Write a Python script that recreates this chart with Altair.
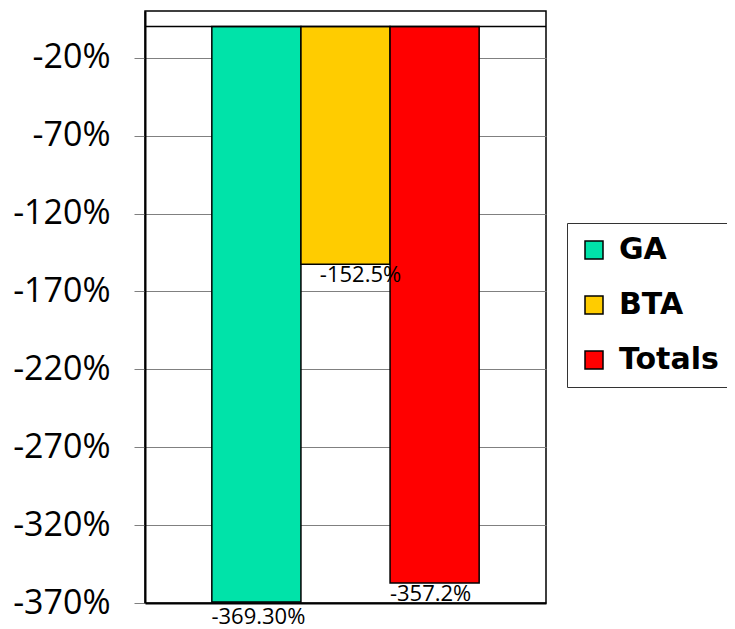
import altair as alt
import pandas as pd

series = ["GA", "BTA", "Totals"]
values = [-369.3, -152.5, -357.2]
labels = ["-369.30%", "-152.5%", "-357.2%"]
colors = ["#00E3A9", "#FFCC00", "#FF0000"]
y_ticks = [-20, -70, -120, -170, -220, -270, -320, -370]

df = pd.DataFrame({"series": series, "value": values, "label": labels})
zero_df = pd.DataFrame({"value": [0]})

x_enc = alt.X(
    "series:N", sort=series,
    scale=alt.Scale(paddingInner=0, paddingOuter=0.75),
    axis=alt.Axis(labels=False, ticks=False, title=None, grid=False,
                  domainColor="black", domainWidth=2),
)
y_enc = alt.Y(
    "value:Q",
    scale=alt.Scale(domain=[-370, 10], nice=False, zero=False),
    axis=alt.Axis(values=y_ticks, labelExpr="datum.value + '%'", title=None,
                  grid=True, gridColor="#808080", gridWidth=1,
                  tickColor="#808080", tickSize=11, tickWidth=1,
                  labelPadding=24, labelFont="Open Sans", labelFontSize=34,
                  labelColor="black", domainColor="black", domainWidth=2),
)

bars = alt.Chart(df).mark_bar(stroke="black", strokeWidth=1.5, opacity=1).encode(
    x=x_enc,
    y=y_enc,
    y2=alt.datum(0),
    color=alt.Color(
        "series:N", sort=series,
        scale=alt.Scale(domain=series, range=colors),
        legend=alt.Legend(
            orient="none", legendX=422, legendY=212, title=None,
            symbolType="square", symbolSize=324, symbolStrokeColor="black",
            symbolStrokeWidth=1.5, symbolOpacity=1,
            labelFont="DejaVu Sans", labelFontWeight="bold", labelFontSize=30,
            labelColor="black", rowPadding=25, padding=12,
            symbolOffset=0, labelOffset=10,
            strokeColor="#333333", fillColor="white",
        ),
    ),
)

zero_rule = alt.Chart(zero_df).mark_rule(color="black", strokeWidth=1.5).encode(
    y=alt.Y("value:Q")
)

offsets = {"GA": (2, 5), "BTA": (15, 1), "Totals": (-4, 1)}
texts = []
for s in series:
    dx, dy = offsets[s]
    texts.append(
        alt.Chart(df).transform_filter(alt.datum.series == s).mark_text(
            baseline="top", align="center", dx=dx, dy=dy,
            font="Open Sans", fontSize=22, color="black",
        ).encode(x=alt.X("series:N", sort=series), y=alt.Y("value:Q"), text="label:N")
    )

chart = alt.layer(bars, zero_rule, *texts).properties(
    width=401, height=592,
    autosize=alt.AutoSizeParams(type="none"),
    padding={"left": 137, "top": 3, "right": 181, "bottom": 26},
    background="white",
).configure_view(stroke="black", strokeWidth=1.5)

chart.save("out.html", embed_options={"renderer": "svg", "actions": False})
